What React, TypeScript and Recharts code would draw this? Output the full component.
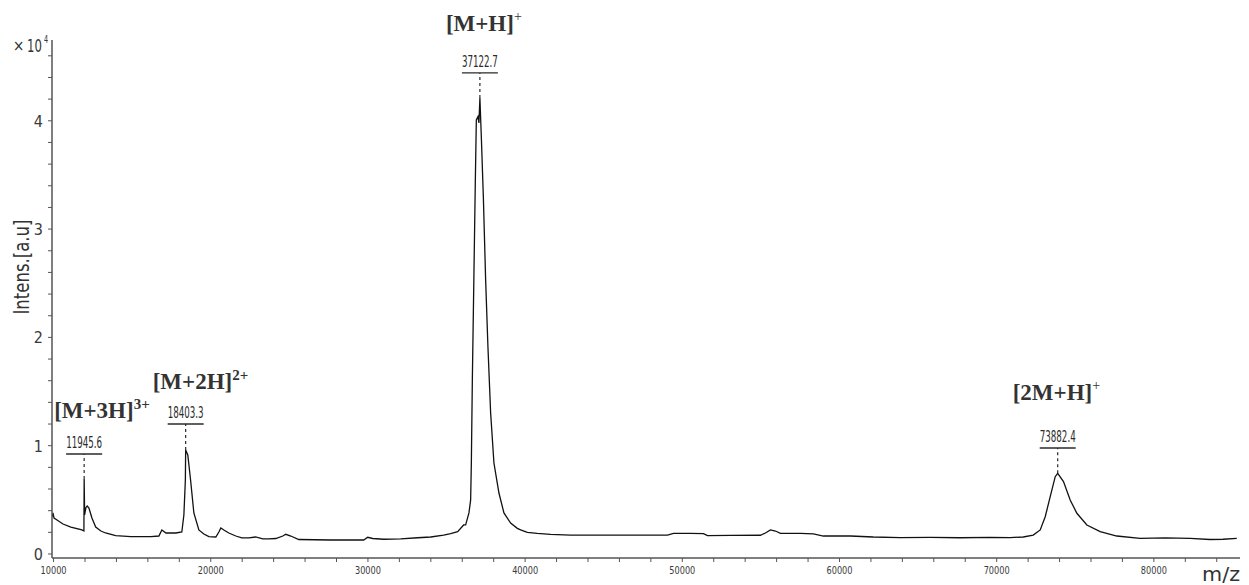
import React from 'react'
import { LineChart, Line, XAxis, YAxis, ReferenceLine, ReferenceDot } from 'recharts'

// spectrum (m/z, intensity in counts)
const mzValues = [
  9900, 9960, 10030, 10220, 10600, 11100, 11800, 11930, 11946, 11975,
  12060, 12140, 12250, 12440, 12680, 13010, 13310, 13950, 14920, 16190,
  16700, 16890, 17150, 17780, 18160, 18290, 18385, 18403, 18540, 18716,
  18925, 19243, 19561, 19879, 20324, 20515, 20642, 20833, 21150, 21595,
  21977, 22422, 22848, 23312, 23693, 24138, 24583, 24774, 25092, 25600,
  27634, 29732, 29986, 30304, 31003, 32084, 33165, 33991, 34818, 35263,
  35708, 36089, 36216, 36426, 36534, 36579, 36642, 36744, 36833, 36896,
  36998, 37062, 37123, 37214, 37342, 37488, 37634, 37806, 38016, 38334,
  38652, 39077, 39503, 39713, 40139, 40775, 41620, 42891, 44798, 46705,
  49057, 49439, 50520, 51346, 51600, 53062, 54970, 55288, 55606, 55924,
  56242, 57513, 58340, 58975, 60692, 62154, 63870, 65777, 67684, 69591,
  70862, 71689, 72325, 72770, 73088, 73406, 73724, 73882, 74250, 74676,
  75102, 75738, 76584, 77645, 79127, 80716, 82305, 83577, 84403, 85274,
]
const intensities = [
  3420, 3790, 3320, 3140, 2770, 2490, 2220, 2120, 6930, 3600,
  4300, 4430, 4250, 3320, 2490, 2120, 1940, 1690, 1600, 1600,
  1660, 2220, 1940, 1940, 2030, 3600, 6830, 9600, 9140, 6830,
  3790, 2220, 1850, 1600, 1570, 2030, 2400, 2220, 1940, 1660,
  1480, 1480, 1570, 1390, 1390, 1430, 1660, 1820, 1660, 1340,
  1290, 1290, 1540, 1430, 1360, 1390, 1500, 1570, 1750, 1890,
  2060, 2680, 2680, 3790, 4990, 8400, 16070, 25950, 34540, 40080,
  40380, 39800, 42110, 38510, 32990, 25310, 19140, 13020, 8400, 5630,
  3790, 2860, 2370, 2220, 2000, 1910, 1820, 1750, 1750, 1740,
  1750, 1910, 1910, 1880, 1690, 1710, 1730, 1940, 2220, 2120,
  1910, 1910, 1850, 1660, 1660, 1570, 1520, 1540, 1500, 1540,
  1520, 1570, 1750, 2220, 3440, 5290, 7140, 7450, 6680, 4990,
  3760, 2680, 2060, 1660, 1450, 1480, 1450, 1340, 1360, 1450,
]

// annotated peaks
const peakMz = [11945.6, 18403.3, 37122.7, 73882.4]
const peakTops = [6930, 9600, 42110, 7450]
const labelLevels = [9234, 12004, 44416, 9788]
const ionNames = ['[M+3H]', '[M+2H]', '[M+H]', '[2M+H]']
const ionCharges = ['3+', '2+', '+', '+']

const xTicks = [
  10000, 12000, 14000, 16000, 18000, 20000, 22000, 24000, 26000, 28000,
  30000, 32000, 34000, 36000, 38000, 40000, 42000, 44000, 46000, 48000,
  50000, 52000, 54000, 56000, 58000, 60000, 62000, 64000, 66000, 68000,
  70000, 72000, 74000, 76000, 78000, 80000, 82000, 84000,
]
const yTicks = [
  0, 2000, 4000, 6000, 8000, 10000, 12000, 14000, 16000, 18000, 20000, 22000,
  24000, 26000, 28000, 30000, 32000, 34000, 36000, 38000, 40000, 42000, 44000, 46000,
]

const spectrum = mzValues.map((mz, i) => ({ mz, intensity: intensities[i] }))

const narrow = "'Liberation Sans Narrow', 'DejaVu Sans Condensed', 'Liberation Sans', sans-serif"
const serif = "'Liberation Serif', 'DejaVu Serif', serif"
const ink = '#2a2a2a'

// label placement (pixels, relative to the underline centre)
const ionOffsets = [
  { dx: -30, dy: -36 },
  { dx: -33, dy: -35 },
  { dx: -34, dy: -42 },
  { dx: -45, dy: -48 },
]

const XTick = (props: any) => {
  const { x, y, payload } = props
  if (payload.value % 10000 !== 0) return null
  return (
    <text x={x} y={y + 10} textAnchor="middle" fontSize={11} fontFamily={narrow} fill="#3a3a3a"
      textLength={26} lengthAdjust="spacingAndGlyphs">
      {payload.value}
    </text>
  )
}

const YTick = (props: any) => {
  const { x, y, payload } = props
  if (payload.value % 10000 !== 0) return null
  return (
    <text x={x - 3} y={y + 6} textAnchor="end" fontSize={16} fontFamily={narrow} fill="#3a3a3a">
      {payload.value / 10000}
    </text>
  )
}

const PeakLabel = (i: number) => (props: any) => {
  const { cx, cy } = props
  const off = ionOffsets[i]
  const bigSup = ionCharges[i] !== '+'
  return (
    <g>
      <line x1={cx - 18} x2={cx + 18} y1={cy} y2={cy} stroke={ink} strokeWidth={1.3} />
      <text x={cx} y={cy - 6} textAnchor="middle" fontSize={15} fontFamily={narrow} fill={ink}
        textLength={36} lengthAdjust="spacingAndGlyphs">
        {peakMz[i].toFixed(1)}
      </text>
      <text x={cx + off.dx} y={cy + off.dy} fontSize={23} fontWeight="bold" fontFamily={serif} fill="#333">
        {ionNames[i]}
        <tspan dy={bigSup ? -9 : -10} fontSize={bigSup ? 15 : 14} fontWeight={bigSup ? 'bold' : 'normal'}>
          {ionCharges[i]}
        </tspan>
      </text>
    </g>
  )
}

export default function App() {
  return (
    <div style={{ position: 'absolute', left: 0, top: 0, width: 1249, height: 585, background: '#fff' }}>
      <LineChart width={1249} height={585} data={spectrum} margin={{ top: 40, right: 9, bottom: 0, left: 0 }}>
        <XAxis
          dataKey="mz"
          type="number"
          domain={[9900, 85480]}
          ticks={xTicks}
          interval={0}
          tick={<XTick />}
          tickSize={4}
          height={27}
          allowDataOverflow
          axisLine={{ stroke: '#555', strokeWidth: 1.5 }}
          tickLine={{ stroke: '#555' }}
        />
        <YAxis
          type="number"
          domain={[-370, 47460]}
          ticks={yTicks}
          interval={0}
          tick={<YTick />}
          tickSize={4}
          width={52}
          allowDataOverflow
          axisLine={{ stroke: '#555', strokeWidth: 1.5 }}
          tickLine={{ stroke: '#555' }}
        />
        <Line
          dataKey="intensity"
          type="linear"
          stroke="#111"
          strokeWidth={1.3}
          dot={false}
          isAnimationActive={false}
        />
        {peakMz.map((mz, i) => (
          <ReferenceLine
            key={'stem' + i}
            segment={[{ x: mz, y: peakTops[i] }, { x: mz, y: labelLevels[i] }]}
            stroke={ink}
            strokeWidth={1.2}
            strokeDasharray="3 3"
          />
        ))}
        {peakMz.map((mz, i) => (
          <ReferenceDot
            key={'lbl' + i}
            x={mz}
            y={labelLevels[i]}
            r={0}
            ifOverflow="visible"
            shape={PeakLabel(i)}
          />
        ))}
      </LineChart>
      <svg width={1249} height={585} style={{ position: 'absolute', left: 0, top: 0, pointerEvents: 'none' }}>
        <text x={13} y={51} fontSize={15} fontFamily={narrow} fill="#333">×</text>
        <text transform="translate(27 52) scale(0.72 1)" fontSize={18} fontFamily={narrow} fill="#333">
          10<tspan dx={3} dy={-9} fontSize={10}>4</tspan>
        </text>
        <text x={0} y={0} transform="translate(29 267) rotate(-90)" textAnchor="middle" fontSize={21}
          fontFamily={narrow} fill="#333" textLength={95} lengthAdjust="spacingAndGlyphs">
          Intens.[a.u]
        </text>
        <text x={1202} y={581} fontSize={20} fontFamily={narrow} fill="#333" textLength={38} lengthAdjust="spacingAndGlyphs">
          m/z
        </text>
      </svg>
    </div>
  )
}
